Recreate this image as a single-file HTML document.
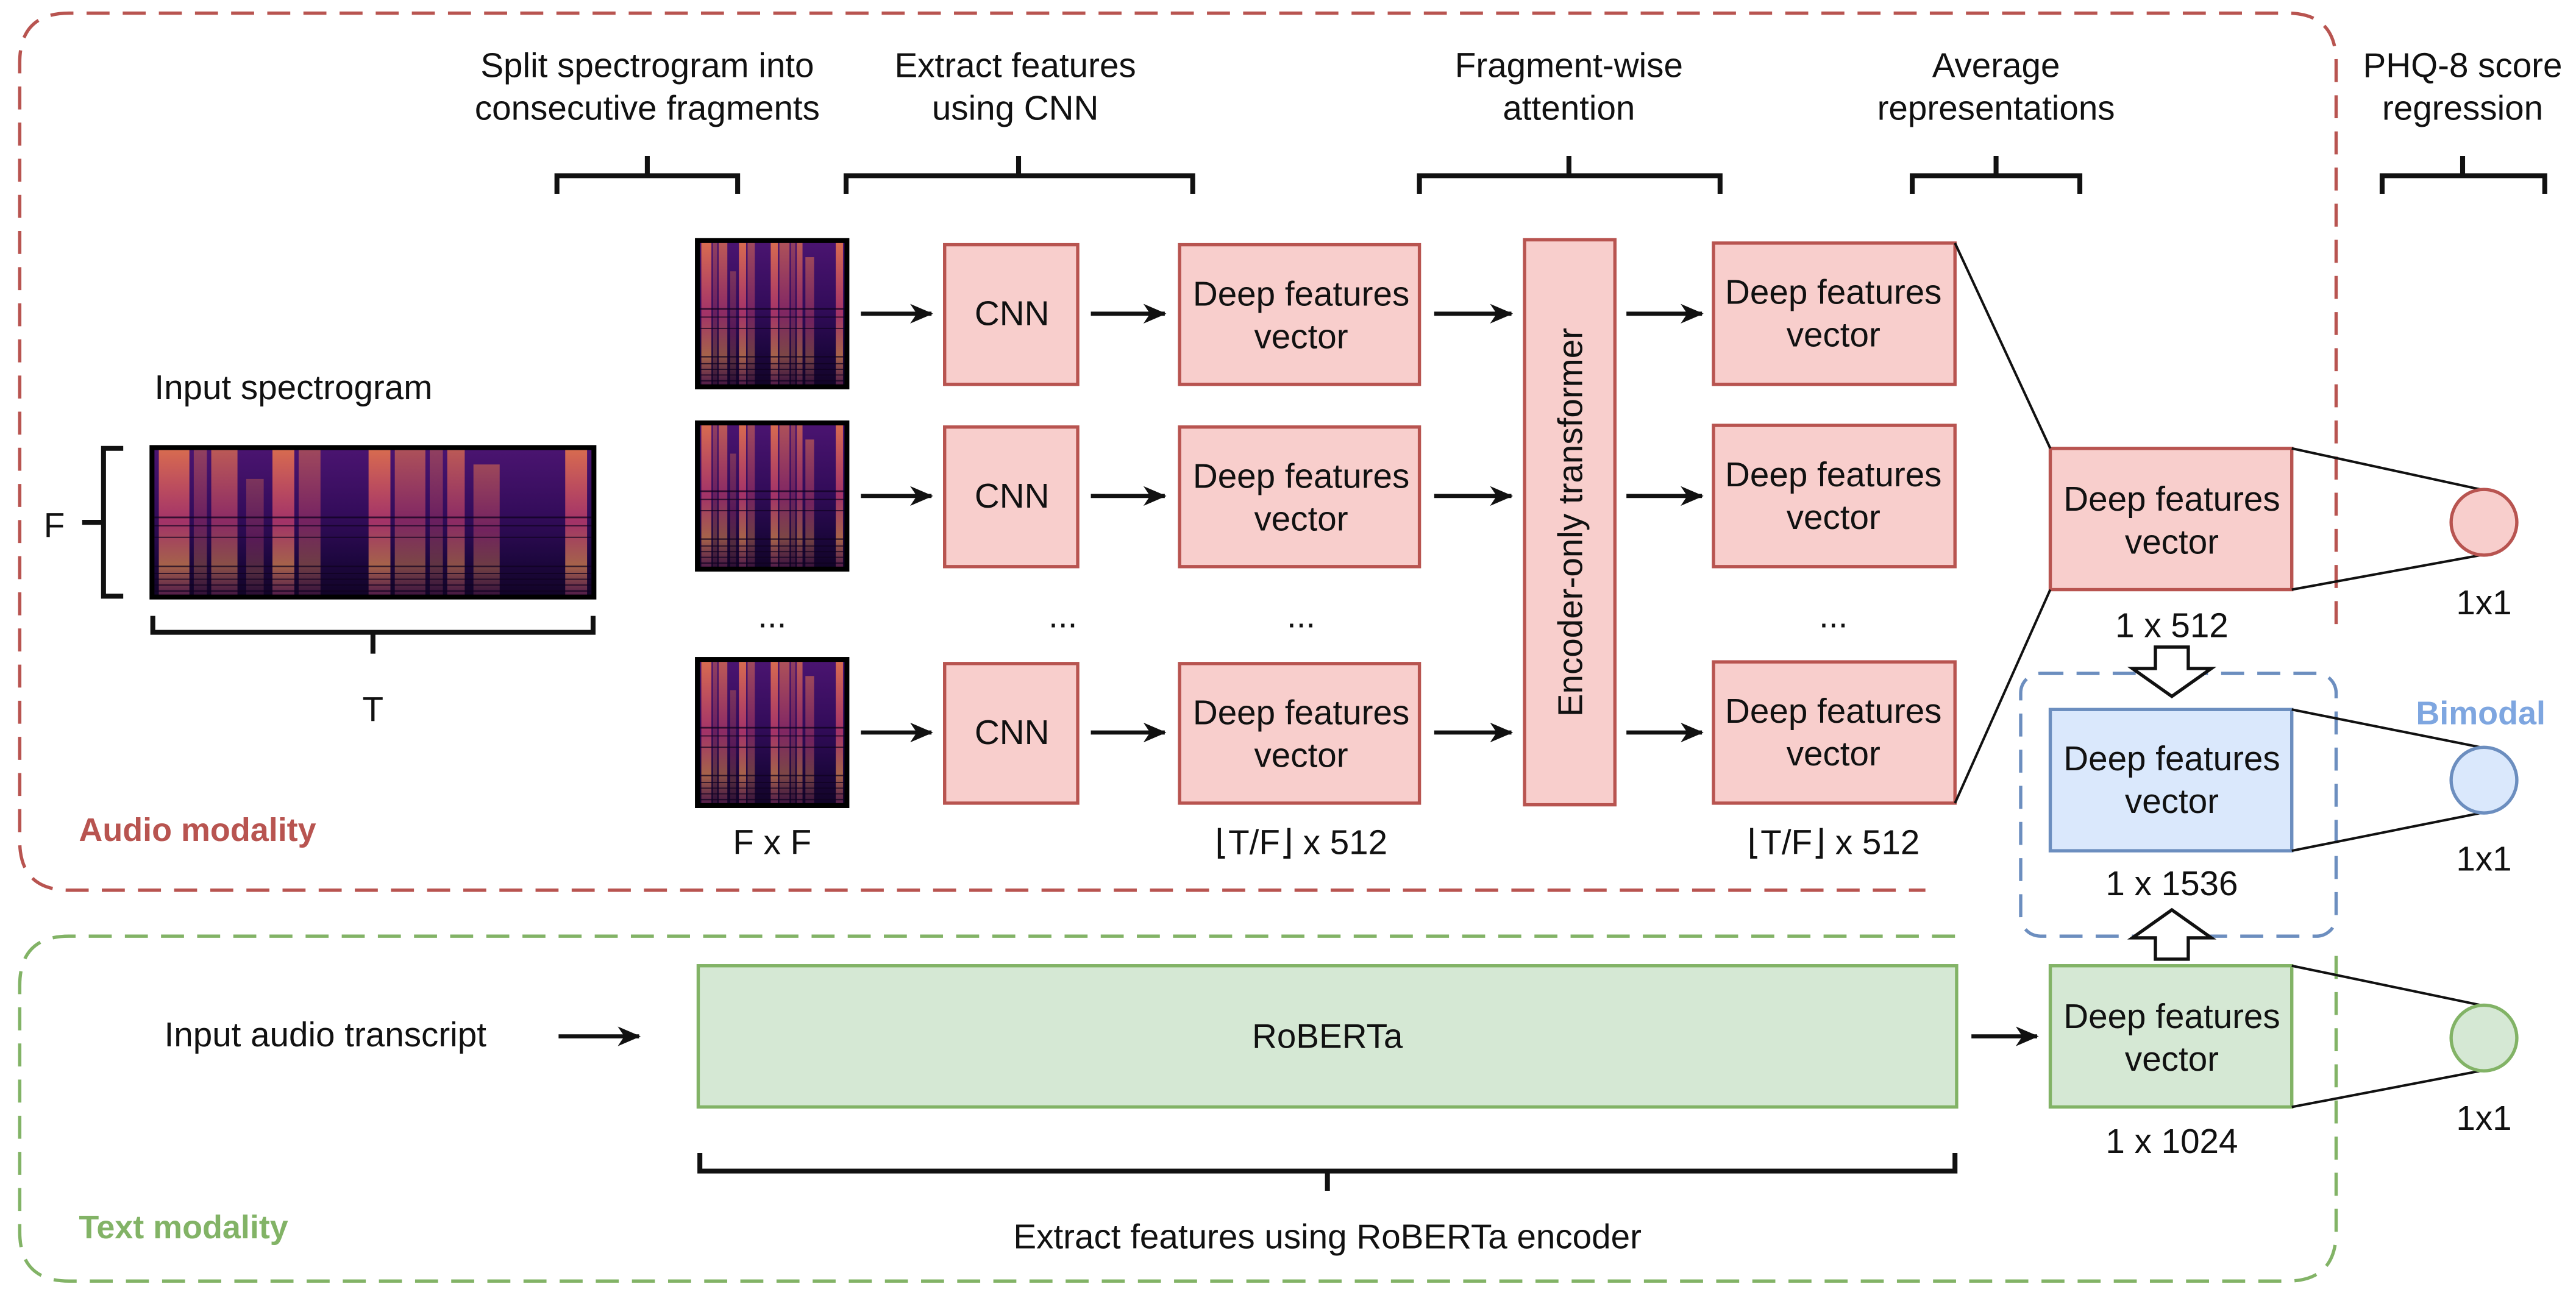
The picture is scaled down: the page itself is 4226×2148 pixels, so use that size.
<!DOCTYPE html>
<html><head><meta charset="utf-8"><style>
html,body{margin:0;padding:0;background:#fff}
svg{display:block}
text{font-family:"Liberation Sans",sans-serif;fill:#111}
</style></head><body>
<svg width="4226" height="2148" viewBox="0 0 1568 797" xmlns="http://www.w3.org/2000/svg">
<defs>
<linearGradient id="bg" x1="0" y1="0" x2="0" y2="1">
<stop offset="0" stop-color="#4a1470"/><stop offset="0.45" stop-color="#330c5a"/><stop offset="0.75" stop-color="#1e0740"/><stop offset="1" stop-color="#120428"/></linearGradient>
<linearGradient id="hot" x1="0" y1="0" x2="0" y2="1">
<stop offset="0" stop-color="#f07a4a" stop-opacity="0.85"/><stop offset="0.5" stop-color="#c8406e" stop-opacity="0.75"/><stop offset="0.8" stop-color="#e08a50" stop-opacity="0.7"/><stop offset="1" stop-color="#803060" stop-opacity="0.6"/></linearGradient>
<g id="spec">
<rect x="0" y="0" width="100" height="100" fill="url(#bg)"/>
<rect x="1" y="0" width="7" height="100" fill="url(#hot)"/>
<rect x="9" y="0" width="3" height="100" fill="url(#hot)" opacity="0.5"/>
<rect x="13" y="0" width="6" height="100" fill="url(#hot)" opacity="0.8"/>
<rect x="21" y="20" width="4" height="80" fill="url(#hot)" opacity="0.4"/>
<rect x="27" y="0" width="5" height="100" fill="url(#hot)"/>
<rect x="33" y="0" width="5" height="100" fill="url(#hot)" opacity="0.6"/>
<rect x="49" y="0" width="5" height="100" fill="url(#hot)"/>
<rect x="55" y="0" width="7" height="100" fill="url(#hot)" opacity="0.7"/>
<rect x="63" y="0" width="3" height="100" fill="url(#hot)" opacity="0.5"/>
<rect x="67" y="0" width="4" height="100" fill="url(#hot)" opacity="0.8"/>
<rect x="73" y="10" width="6" height="90" fill="url(#hot)" opacity="0.6"/>
<rect x="94" y="0" width="5" height="100" fill="url(#hot)"/>
<g fill="#100220" opacity="0.75">
<rect x="0" y="46" width="100" height="1.2"/><rect x="0" y="52" width="100" height="0.8"/><rect x="0" y="60" width="100" height="0.8"/><rect x="0" y="80" width="100" height="1"/><rect x="0" y="85" width="100" height="0.8"/><rect x="0" y="89" width="100" height="0.8"/><rect x="0" y="93" width="100" height="0.8"/><rect x="0" y="97" width="100" height="1"/>
</g>
</g>
</defs>

<path d="M1422,380 V38 Q1422,8 1392,8 H42 Q12,8 12,38 V512 Q12,542 42,542 H1172" fill="none" stroke="#b85450" stroke-width="2" stroke-dasharray="14,8"/>
<path d="M1190,570 H42 Q12,570 12,600 V750 Q12,780 42,780 H1392 Q1422,780 1422,750 V575" fill="none" stroke="#82b366" stroke-width="2" stroke-dasharray="14,8"/>
<rect x="1230" y="410" width="192" height="160" rx="12" fill="none" stroke="#6c8ebf" stroke-width="2" stroke-dasharray="14,8"/>

<text x="48" y="512" font-size="20" font-weight="bold" style="fill:#b85450">Audio modality</text>
<text x="48" y="754" font-size="20" font-weight="bold" style="fill:#82b366">Text modality</text>
<text x="1510" y="441" font-size="20" font-weight="bold" text-anchor="middle" style="fill:#7ea6e0">Bimodal</text>

<g font-size="21" text-anchor="middle">
<text x="394" y="47">Split spectrogram into</text><text x="394" y="73">consecutive fragments</text>
<text x="618" y="47">Extract features</text><text x="618" y="73">using CNN</text>
<text x="955" y="47">Fragment-wise</text><text x="955" y="73">attention</text>
<text x="1215" y="47">Average</text><text x="1215" y="73">representations</text>
<text x="1499" y="47">PHQ-8 score</text><text x="1499" y="73">regression</text>
</g>
<g fill="none" stroke="#111" stroke-width="3">
<path d="M339,118 V107 H449 V118 M394,107 V95"/>
<path d="M515,118 V107 H726 V118 M620,107 V95"/>
<path d="M864,118 V107 H1047 V118 M955,107 V95"/>
<path d="M1164,118 V107 H1266 V118 M1215,107 V95"/>
<path d="M1450,118 V107 H1549 V118 M1499,107 V95"/>
</g>

<text x="94" y="243" font-size="21">Input spectrogram</text>
<rect x="91" y="271" width="272" height="94" fill="#000"/>
<use href="#spec" transform="translate(94,274) scale(2.66,0.88)"/>
<g fill="none" stroke="#111" stroke-width="3">
<path d="M75,273 H63 V363 H75 M63,318 H50"/>
<path d="M93,375 V385 H361 V375 M227,385 V398"/>
</g>
<text x="33" y="327" font-size="21" text-anchor="middle">F</text>
<text x="227" y="439" font-size="21" text-anchor="middle">T</text>

<g>
<rect x="423" y="145" width="94" height="92" fill="#000"/><use href="#spec" transform="translate(426,148) scale(0.88,0.86)"/>
<rect x="423" y="256" width="94" height="92" fill="#000"/><use href="#spec" transform="translate(426,259) scale(0.88,0.86)"/>
<rect x="423" y="400" width="94" height="92" fill="#000"/><use href="#spec" transform="translate(426,403) scale(0.88,0.86)"/>
</g>

<defs><marker id="ar" markerWidth="14" markerHeight="12" refX="13" refY="6" orient="auto" markerUnits="userSpaceOnUse"><path d="M0,0 L14,6 L0,12 L4,6 Z" fill="#111"/></marker></defs>
<g stroke="#111" stroke-width="2.5" marker-end="url(#ar)">
<line x1="524" y1="191" x2="567" y2="191"/><line x1="524" y1="302" x2="567" y2="302"/><line x1="524" y1="446" x2="567" y2="446"/>
<line x1="664" y1="191" x2="709" y2="191"/><line x1="664" y1="302" x2="709" y2="302"/><line x1="664" y1="446" x2="709" y2="446"/>
<line x1="873" y1="191" x2="920" y2="191"/><line x1="873" y1="302" x2="920" y2="302"/><line x1="873" y1="446" x2="920" y2="446"/>
<line x1="990" y1="191" x2="1036" y2="191"/><line x1="990" y1="302" x2="1036" y2="302"/><line x1="990" y1="446" x2="1036" y2="446"/>
<line x1="340" y1="631" x2="389" y2="631"/>
<line x1="1200" y1="631" x2="1240" y2="631"/>
</g>

<g fill="#f8cecc" stroke="#b85450" stroke-width="2">
<rect x="575" y="149" width="81" height="85"/><rect x="575" y="260" width="81" height="85"/><rect x="575" y="404" width="81" height="85"/>
<rect x="718" y="149" width="146" height="85"/><rect x="718" y="260" width="146" height="85"/><rect x="718" y="404" width="146" height="85"/>
<rect x="928" y="146" width="55" height="344"/>
<rect x="1043" y="148" width="147" height="86"/><rect x="1043" y="259" width="147" height="86"/><rect x="1043" y="403" width="147" height="86"/>
<rect x="1248" y="273" width="147" height="86"/>
</g>
<rect x="1248" y="432" width="147" height="86" fill="#dae8fc" stroke="#6c8ebf" stroke-width="2"/>
<rect x="1248" y="588" width="147" height="86" fill="#d5e8d4" stroke="#82b366" stroke-width="2"/>
<rect x="425" y="588" width="766" height="86" fill="#d5e8d4" stroke="#82b366" stroke-width="2"/>

<g font-size="21" text-anchor="middle">
<text x="616" y="198">CNN</text><text x="616" y="309">CNN</text><text x="616" y="453">CNN</text>
<text x="792" y="186">Deep features</text><text x="792" y="212">vector</text>
<text x="792" y="297">Deep features</text><text x="792" y="323">vector</text>
<text x="792" y="441">Deep features</text><text x="792" y="467">vector</text>
<text x="1116" y="185">Deep features</text><text x="1116" y="211">vector</text>
<text x="1116" y="296">Deep features</text><text x="1116" y="322">vector</text>
<text x="1116" y="440">Deep features</text><text x="1116" y="466">vector</text>
<text x="1322" y="311">Deep features</text><text x="1322" y="337">vector</text>
<text x="1322" y="469">Deep features</text><text x="1322" y="495">vector</text>
<text x="1322" y="626">Deep features</text><text x="1322" y="652">vector</text>
<text x="808" y="638">RoBERTa</text>
<text x="963" y="318" transform="rotate(-90 963 318)">Encoder-only transformer</text>
<text x="470" y="382">...</text><text x="647" y="382">...</text><text x="792" y="382">...</text><text x="1116" y="382">...</text>
<text x="470" y="520">F x F</text>
<text x="792" y="520">⌊T/F⌋ x 512</text>
<text x="1116" y="520">⌊T/F⌋ x 512</text>
<text x="1322" y="388">1 x 512</text>
<text x="1322" y="545">1 x 1536</text>
<text x="1322" y="702">1 x 1024</text>
<text x="1512" y="374">1x1</text><text x="1512" y="530">1x1</text><text x="1512" y="688">1x1</text>
<text x="808" y="760">Extract features using RoBERTa encoder</text>
</g>
<text x="100" y="637" font-size="21">Input audio transcript</text>

<g fill="none" stroke="#111" stroke-width="1.5">
<line x1="1190" y1="148" x2="1248" y2="273"/><line x1="1190" y1="489" x2="1248" y2="359"/>
<line x1="1395" y1="273" x2="1510" y2="298"/><line x1="1395" y1="359" x2="1510" y2="338"/>
<line x1="1395" y1="432" x2="1510" y2="455"/><line x1="1395" y1="518" x2="1510" y2="495"/>
<line x1="1395" y1="588" x2="1510" y2="612"/><line x1="1395" y1="674" x2="1510" y2="652"/>
</g>
<circle cx="1512" cy="318" r="20" fill="#f8cecc" stroke="#b85450" stroke-width="2"/>
<circle cx="1512" cy="475" r="20" fill="#dae8fc" stroke="#6c8ebf" stroke-width="2"/>
<circle cx="1512" cy="632" r="20" fill="#d5e8d4" stroke="#82b366" stroke-width="2"/>

<path d="M1312,394 H1332 V407 H1346 L1322,424 L1298,407 H1312 Z" fill="#fff" stroke="#111" stroke-width="2"/>
<path d="M1312,584 H1332 V571 H1346 L1322,554 L1298,571 H1312 Z" fill="#fff" stroke="#111" stroke-width="2"/>

<g fill="none" stroke="#111" stroke-width="3">
<path d="M426,702 V713 H1190 V702 M808,713 V725"/>
</g>
</svg>
</body></html>
